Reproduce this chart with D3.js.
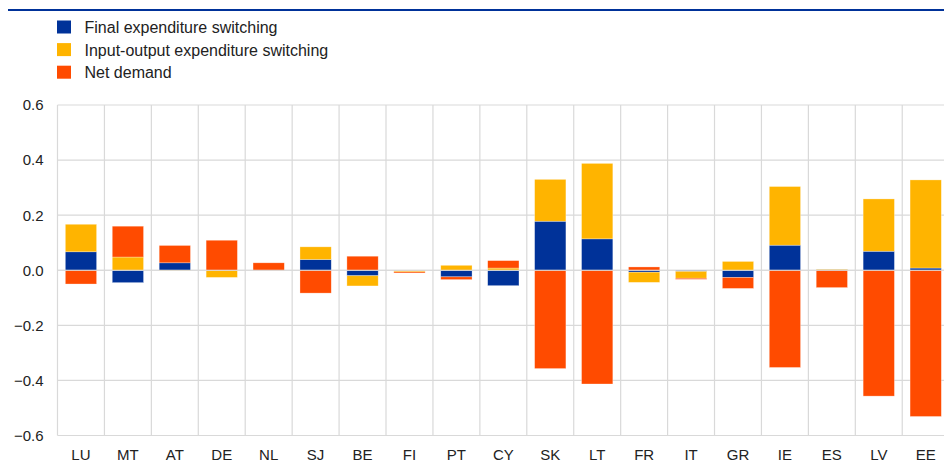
<!DOCTYPE html>
<meta charset="utf-8">
<head>
<title>Expenditure switching</title>
<script src="https://d3js.org/d3.v7.min.js"></script>
<style>
  body { margin: 0; background: #fff; }
  svg { display: block; font-family: "Liberation Sans", Arial, sans-serif; }
</style>
</head>
<body>
<div id="chart"></div>
<script>
// data
var countries = ["LU","MT","AT","DE","NL","SJ","BE","FI","PT","CY","SK","LT","FR","IT","GR","IE","ES","LV","EE"];
var finalSwitching = [0.067,-0.045,0.027,0.000,0.000,0.039,-0.020,-0.002,-0.024,-0.056,0.178,0.114,-0.007,-0.004,-0.026,0.091,0.002,0.069,0.008];
var ioSwitching    = [0.100,0.048,-0.002,-0.026,0.000,0.046,-0.037,-0.004,0.018,0.008,0.152,0.274,-0.037,-0.025,0.032,0.213,0.002,0.190,0.320];
var netDemand      = [-0.050,0.112,0.063,0.109,0.027,-0.083,0.051,-0.004,-0.010,0.027,-0.357,-0.413,0.012,-0.004,-0.040,-0.353,-0.063,-0.457,-0.531];
var seriesNames = ["Final expenditure switching","Input-output expenditure switching","Net demand"];
var seriesColors = ["#003299","#ffb400","#ff4b00"];
var yTicks = [-0.6,-0.4,-0.2,0.0,0.2,0.4,0.6];

function draw_chart() {
var W = 944, H = 473;
var margin = {top: 105, left: 57.5};
var step = 46.93;
var width = step * countries.length,
    height = 330.5;

var svg = d3.select("#chart").append("svg")
  .attr("width", W).attr("height", H);

// top rule
svg.append("line")
  .attr("x1", 8).attr("x2", W).attr("y1", 10).attr("y2", 10)
  .attr("stroke", "#003299").attr("stroke-width", 2);

// legend
var legend = svg.append("g").attr("transform", "translate(57,20.5)");
seriesNames.forEach(function(name, i) {
  var g = legend.append("g").attr("transform", "translate(0," + (i * 22.6) + ")");
  g.append("rect").attr("width", 14).attr("height", 13).attr("fill", seriesColors[i]);
  g.append("text").attr("x", 27.5).attr("y", 12.5)
    .style("font-size", "16px").attr("fill", "#222").text(name);
});

var plot = svg.append("g").attr("transform", "translate(" + margin.left + "," + margin.top + ")");

var x = d3.scaleBand().domain(countries).range([0, width])
  .paddingInner(1/3).paddingOuter(1/6);
var y = d3.scaleLinear().domain([-0.6, 0.6]).range([height, 0]);

// grid
plot.selectAll(".hgrid").data(yTicks).enter().append("line")
  .attr("x1", 0).attr("x2", width)
  .attr("y1", function(d) { return y(d); }).attr("y2", function(d) { return y(d); })
  .attr("stroke", "#d9d9d9").attr("stroke-width", 1.2);
plot.selectAll(".vgrid").data(d3.range(countries.length + 1)).enter().append("line")
  .attr("x1", function(i) { return i * x.step(); }).attr("x2", function(i) { return i * x.step(); })
  .attr("y1", 0).attr("y2", height)
  .attr("stroke", "#d9d9d9").attr("stroke-width", 1.2);

// stacked bars, diverging
var rows = countries.map(function(c, i) {
  return {country: c, s0: finalSwitching[i], s1: ioSwitching[i], s2: netDemand[i]};
});
var stack = d3.stack().keys(["s0","s1","s2"]).offset(d3.stackOffsetDiverging);
var layers = stack(rows);

plot.selectAll(".layer").data(layers).enter().append("g")
  .attr("fill", function(d, i) { return seriesColors[i]; })
  .selectAll("rect").data(function(d) { return d; }).enter().append("rect")
  .attr("x", function(d) { return x(d.data.country); })
  .attr("width", x.bandwidth())
  .attr("y", function(d) { return y(Math.max(d[0], d[1])); })
  .attr("height", function(d) { return Math.abs(y(d[0]) - y(d[1])); })
  .attr("stroke", "#fff").attr("stroke-opacity", 0.5).attr("stroke-width", 0.6);

// zero line on top
plot.append("line").attr("x1", 0).attr("x2", width)
  .attr("y1", y(0)).attr("y2", y(0))
  .attr("stroke", "#d9d9d9").attr("stroke-width", 1.2);

// y labels
plot.selectAll(".ylab").data(yTicks).enter().append("text")
  .attr("x", -14).attr("y", function(d) { return y(d); })
  .attr("dy", "0.36em").attr("text-anchor", "end")
  .style("font-size", "15px").attr("fill", "#222")
  .text(function(d) { return d3.format(".1f")(d); });

// x labels
plot.selectAll(".xlab").data(countries).enter().append("text")
  .attr("x", function(d) { return x(d) + x.bandwidth() / 2; })
  .attr("y", height + 24.5).attr("text-anchor", "middle")
  .style("font-size", "15px").attr("fill", "#222")
  .text(function(d) { return d; });
}
draw_chart();
</script>
</body>
